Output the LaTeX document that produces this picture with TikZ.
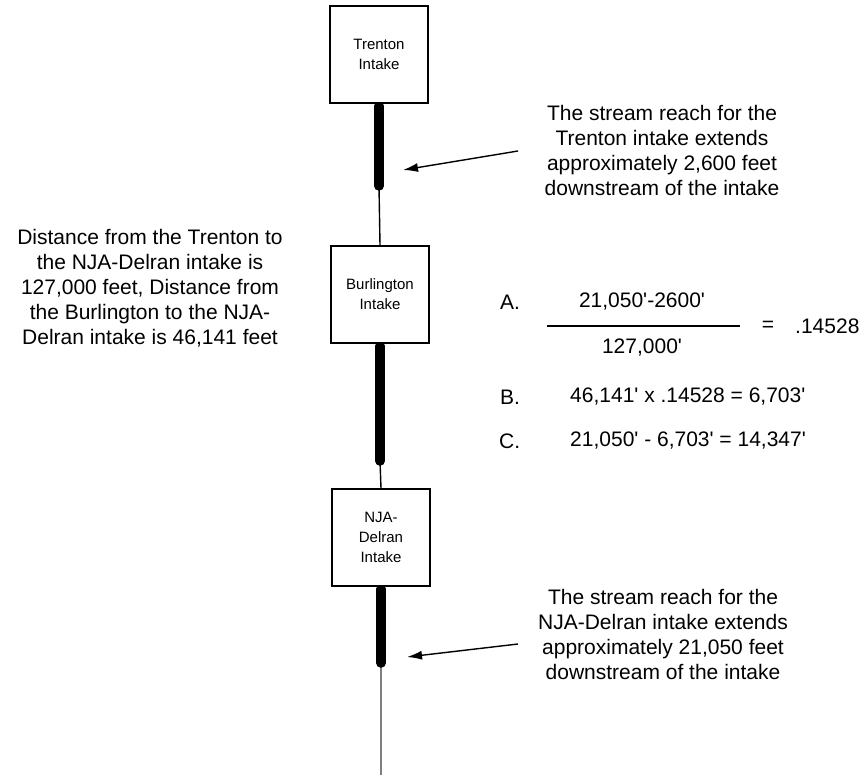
\documentclass[tikz,border=0pt]{standalone}
\usepackage{fontspec}
\setmainfont{Liberation Sans}
\usetikzlibrary{arrows.meta}
\newcommand\ap{\textquotesingle}
\begin{document}
\begin{tikzpicture}[x=1pt,y=-1pt,
  intake/.style={draw,line width=1.4pt,fill=white,minimum width=98pt,minimum height=97pt,inner sep=0pt,align=center,font=\fontsize{15}{20}\selectfont},
  reach/.style={line width=9.5pt,line cap=round},
  thin/.style={line width=1.4pt},
  note/.style={align=center,font=\fontsize{21}{25}\selectfont,inner sep=0pt},
  eq/.style={font=\fontsize{21}{25}\selectfont,inner sep=0pt},
  pointer/.style={line width=1.4pt,-{Latex[length=15pt,width=9pt]}}]
\useasboundingbox (0,0) rectangle (864,775);
% nodes
\node[intake] (tr) at (379,54.5) {Trenton\\Intake};
\node[intake] (bu) at (380,294.5) {Burlington\\Intake};
\node[intake] (nj) at (381,537.5) {NJA-\\Delran\\Intake};
\coordinate (r1a) at (379,106);
\coordinate (r1b) at (379,186);
\coordinate (r2a) at (380,346);
\coordinate (r2b) at (380,461);
\coordinate (r3a) at (381,589);
\coordinate (r3b) at (381,663);
\coordinate (end) at (381,775);
% stream
\draw[thin] (r1b) -- (bu.north);
\draw[thin] (r2b) -- (nj.north);
\draw[thin,gray] (r3b) -- (end);
\draw[reach] (r1a) -- (r1b);
\draw[reach] (r2a) -- (r2b);
\draw[reach] (r3a) -- (r3b);
\node[intake] at (tr) {Trenton\\Intake};
\node[intake] at (bu) {Burlington\\Intake};
\node[intake] at (nj) {NJA-\\Delran\\Intake};
% notes
\node[note] (n1) at (662,150) {The stream reach for the\\Trenton intake extends\\approximately 2,600 feet\\downstream of the intake};
\node[note] (n2) at (663,634) {The stream reach for the\\NJA-Delran intake extends\\approximately 21,050 feet\\downstream of the intake};
\node[note] (n3) at (150,288) {Distance from the Trenton to\\the NJA-Delran intake is\\127,000 feet, Distance from\\the Burlington to the NJA-\\Delran intake is 46,141 feet};
\coordinate (a1s) at (518,151);
\coordinate (a1e) at (403,170);
\coordinate (a2s) at (518,644);
\coordinate (a2e) at (407,657);
\draw[pointer] (a1s) -- (a1e);
\draw[pointer] (a2s) -- (a2e);
% equations
\node[eq,anchor=west] (la) at (500,302) {A.};
\node[eq] (num) at (642,302) {21,050\ap-2600\ap};
\coordinate (fl) at (547,326);
\coordinate (fr) at (740,326);
\draw[thin] (fl) -- (fr);
\node[eq] (den) at (642,348) {127,000\ap};
\node[eq] (eqs) at (768,326) {=};
\node[eq,anchor=west] (res) at (795,326) {.14528};
\node[eq,anchor=west] (lb) at (500,397) {B.};
\node[eq,anchor=west] (eb) at (570,397) {46,141\ap{} x .14528 = 6,703\ap};
\node[eq,anchor=west] (lc) at (499,441) {C.};
\node[eq,anchor=west] (ec) at (570,441) {21,050\ap{} - 6,703\ap{} = 14,347\ap};
\end{tikzpicture}
\end{document}
